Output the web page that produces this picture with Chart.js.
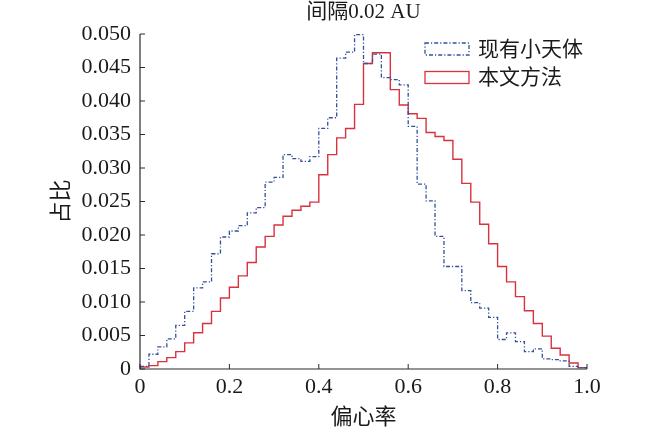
<!DOCTYPE html>
<html>
<head>
<meta charset="utf-8">
<script src="https://cdn.jsdelivr.net/npm/chart.js@4.4.1/dist/chart.umd.min.js"></script>
<style>
html,body{margin:0;padding:0;background:#fff;}
#wrap{width:650px;height:432px;}
</style>
</head>
<body>
<div id="wrap"><canvas id="c" width="650" height="432"></canvas></div>
<script>
const binEdges = [0,0.02,0.04,0.06,0.08,0.10,0.12,0.14,0.16,0.18,0.20,0.22,0.24,0.26,0.28,0.30,0.32,0.34,0.36,0.38,0.40,0.42,0.44,0.46,0.48,0.50,0.52,0.54,0.56,0.58,0.60,0.62,0.64,0.66,0.68,0.70,0.72,0.74,0.76,0.78,0.80,0.82,0.84,0.86,0.88,0.90,0.92,0.94,0.96,0.98,1.00];
const existingAsteroids = [0.0004,0.0022,0.0033,0.0045,0.0065,0.0086,0.0121,0.0130,0.0172,0.0197,0.0206,0.0214,0.0233,0.0241,0.0279,0.0286,0.0320,0.0314,0.0310,0.0317,0.0359,0.0375,0.0464,0.0473,0.0499,0.0456,0.0470,0.0435,0.0432,0.0424,0.0362,0.0276,0.0251,0.0198,0.0153,0.0153,0.0117,0.0099,0.0091,0.0077,0.0044,0.0054,0.0041,0.0026,0.0030,0.0015,0.0014,0.0012,0.0004,0.0002];
const thisMethod = [0.0003,0.0005,0.0011,0.0017,0.0026,0.0039,0.0054,0.0068,0.0086,0.0106,0.0122,0.0139,0.0159,0.0182,0.0198,0.0215,0.0228,0.0237,0.0243,0.0249,0.0290,0.0320,0.0345,0.0359,0.0395,0.0456,0.0472,0.0472,0.0417,0.0394,0.0381,0.0374,0.0353,0.0347,0.0341,0.0313,0.0277,0.0249,0.0216,0.0187,0.0153,0.0130,0.0108,0.0087,0.0068,0.0049,0.0031,0.0021,0.0009,0.0002];
const seriesNames = ['现有小天体','本文方法'];
const titleText = '间隔0.02 AU';
const xTitle = '偏心率';
const yTitle = '占比';
const xTicks = [0,0.2,0.4,0.6,0.8,1.0];
const yTicks = [0,0.005,0.010,0.015,0.020,0.025,0.030,0.035,0.040,0.045,0.050];

function stepPoints(vals){
  const pts = vals.map((v,i)=>({x:binEdges[i], y:v}));
  pts.push({x:binEdges[binEdges.length-1], y:vals[vals.length-1]});
  return pts;
}

const FONT = '"Liberation Serif","Times New Roman","Noto Sans CJK SC",serif';
const TXT = '#1a1a1a';
const BLUE = '#33509c';
const RED = '#d8323f';

const axesPlugin = {
  id:'axesPlugin',
  afterDatasetsDraw(chart){
    const {ctx, chartArea:a, scales:{x,y}} = chart;
    ctx.save();
    ctx.strokeStyle = '#2a2a2a';
    ctx.lineWidth = 1.2;
    ctx.beginPath();
    ctx.moveTo(a.left, a.top);
    ctx.lineTo(a.left, a.bottom);
    ctx.lineTo(a.right, a.bottom);
    ctx.stroke();
    ctx.lineWidth = 1;
    ctx.beginPath();
    yTicks.forEach(v=>{const py=y.getPixelForValue(v); ctx.moveTo(a.left,py); ctx.lineTo(a.left+5,py);});
    xTicks.forEach(v=>{const px=x.getPixelForValue(v); ctx.moveTo(px,a.bottom); ctx.lineTo(px,a.bottom-5);});
    ctx.stroke();
    ctx.restore();
  }
};

const legendPlugin = {
  id:'boxLegend',
  afterDraw(chart){
    const {ctx} = chart;
    ctx.save();
    chart.data.datasets.forEach((ds,i)=>{
      const bx=425, by=43+i*28.5, bw=44, bh=12;
      ctx.strokeStyle = ds.borderColor;
      ctx.lineWidth = 1.3;
      ctx.setLineDash(ds.borderDash||[]);
      ctx.strokeRect(bx,by,bw,bh);
      ctx.setLineDash([]);
      ctx.fillStyle = TXT;
      ctx.font = '21px ' + FONT;
      ctx.textBaseline = 'middle';
      ctx.textAlign = 'left';
      ctx.fillText(ds.label, 478, by+bh/2+1);
    });
    ctx.restore();
  }
};

new Chart(document.getElementById('c'), {
  type:'line',
  data:{
    datasets:[
      {label:seriesNames[0], data:stepPoints(existingAsteroids), stepped:'before', borderColor:BLUE, borderWidth:1.3, borderDash:[4,2,1.2,2], pointRadius:0, fill:false, clip:false},
      {label:seriesNames[1], data:stepPoints(thisMethod), stepped:'before', borderColor:RED, borderWidth:1.4, pointRadius:0, fill:false, clip:false}
    ]
  },
  options:{
    responsive:false,
    animation:false,
    devicePixelRatio:1,
    layout:{padding:{left:0,right:63,top:0,bottom:0}},
    plugins:{
      legend:{display:false},
      tooltip:{enabled:false},
      title:{display:true, text:titleText, fullSize:false, color:TXT, font:{family:FONT,size:21,weight:'normal'}, padding:{top:0,bottom:8.8}}
    },
    scales:{
      x:{type:'linear', min:0, max:1,
        afterBuildTicks(s){ s.ticks = xTicks.map(v=>({value:v})); },
        afterFit(s){ s.height = 63; },
        grid:{display:false, drawTicks:false}, border:{display:false},
        ticks:{color:TXT, padding:5, maxRotation:0, font:{family:FONT,size:22}, callback:v=> v===0?'0':v.toFixed(1)},
        title:{display:true, text:xTitle, color:TXT, font:{family:FONT,size:22}, padding:{top:0,bottom:1}}
      },
      y:{type:'linear', min:0, max:0.05,
        afterBuildTicks(s){ s.ticks = yTicks.map(v=>({value:v})); },
        afterFit(s){ s.width = 140; },
        grid:{display:false, drawTicks:false}, border:{display:false},
        ticks:{color:TXT, padding:9, font:{family:FONT,size:22}, callback:v=> Math.abs(v)<1e-9?'0':v.toFixed(3)},
        title:{display:true, text:yTitle, color:TXT, font:{family:FONT,size:22}, padding:{top:49,bottom:0}}
      }
    }
  },
  plugins:[axesPlugin, legendPlugin]
});
</script>
</body>
</html>
